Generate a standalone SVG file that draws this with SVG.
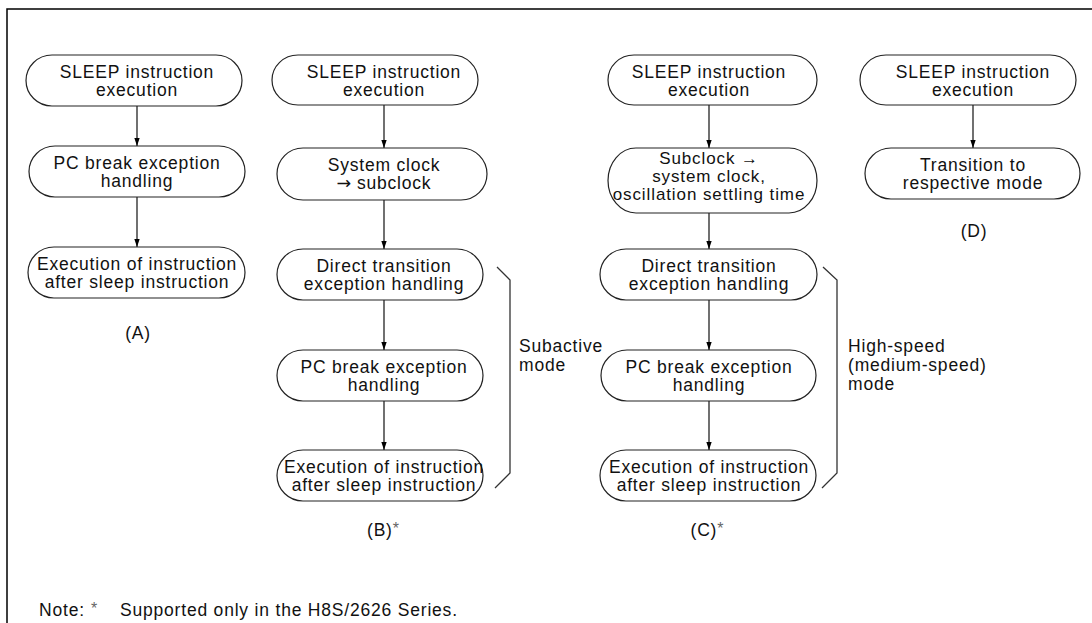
<svg xmlns="http://www.w3.org/2000/svg" width="1092" height="623" viewBox="0 0 1092 623">
<defs>
<marker id="ah" markerWidth="8" markerHeight="13" refX="12" refY="4" orient="auto" markerUnits="userSpaceOnUse" viewBox="0 0 12 8">
<path d="M0,0 L12,4 L0,8 Z" fill="#000"/>
</marker>
</defs>
<style>
.n{fill:#fff;stroke:#222;stroke-width:1.2}
.t{font-family:"Liberation Sans",Arial,sans-serif;font-size:17.5px;letter-spacing:0.8px;fill:#111;text-anchor:middle}
.t3{font-size:17px;letter-spacing:0.9px}
.l{font-family:"Liberation Sans",Arial,sans-serif;font-size:17.5px;letter-spacing:0.8px;fill:#111}
.s{font-family:"Liberation Sans",Arial,sans-serif;font-size:16px;fill:#666;letter-spacing:0}
.ar{font-family:"DejaVu Sans",sans-serif;letter-spacing:0}
.c{stroke:#111;stroke-width:1.2;fill:none;marker-end:url(#ah)}
.b{stroke:#333;stroke-width:1.3;fill:none}
</style>
<rect width="1092" height="623" fill="#fff"/>
<path d="M7,623 V9 H1092" fill="none" stroke="#000" stroke-width="1.5"/>

<g id="connectors">
<line class="c" x1="137" y1="106" x2="137" y2="146"/>
<line class="c" x1="137" y1="197" x2="137" y2="247"/>
<line class="c" x1="384" y1="105" x2="384" y2="148"/>
<line class="c" x1="384" y1="200" x2="384" y2="249"/>
<line class="c" x1="384" y1="300" x2="384" y2="350"/>
<line class="c" x1="384" y1="401" x2="384" y2="450"/>
<line class="c" x1="709" y1="105" x2="709" y2="148"/>
<line class="c" x1="709" y1="213" x2="709" y2="249"/>
<line class="c" x1="709" y1="300" x2="709" y2="350"/>
<line class="c" x1="709" y1="401" x2="709" y2="450"/>
<line class="c" x1="973" y1="105" x2="973" y2="148"/>
</g>

<g id="brackets">
<path class="b" d="M497,267 L510,280 V473 L495,488"/>
<path class="b" d="M823,267 L837,280 V473 L822,488"/>
</g>

<!-- Column A -->
<g id="a1"><rect class="n" x="26" y="55" width="216" height="51" rx="26" ry="25.5"/>
<text class="t" x="137" y="78">SLEEP instruction</text><text class="t" x="137" y="96">execution</text></g>
<g id="a2"><rect class="n" x="29" y="146" width="216" height="51" rx="26" ry="25.5"/>
<text class="t" x="137" y="169">PC break exception</text><text class="t" x="137" y="187">handling</text></g>
<g id="a3"><rect class="n" x="28" y="247" width="217" height="51" rx="26" ry="25.5"/>
<text class="t" x="137" y="270">Execution of instruction</text><text class="t" x="137" y="288">after sleep instruction</text></g>
<g id="labelA"><text class="t" x="138" y="339">(A)</text></g>

<!-- Column B -->
<g id="b1"><rect class="n" x="272" y="55" width="206" height="50" rx="26" ry="25"/>
<text class="t" x="384" y="78">SLEEP instruction</text><text class="t" x="384" y="96">execution</text></g>
<g id="b2"><rect class="n" x="277" y="148" width="210" height="52" rx="26" ry="26"/>
<text class="t" x="384" y="171">System clock</text><text class="t" x="384" y="189"><tspan class="ar">→</tspan> subclock</text></g>
<g id="b3"><rect class="n" x="277" y="249" width="206" height="51" rx="26" ry="25.5"/>
<text class="t" x="384" y="272">Direct transition</text><text class="t" x="384" y="290">exception handling</text></g>
<g id="b4"><rect class="n" x="277" y="350" width="206" height="51" rx="26" ry="25.5"/>
<text class="t" x="384" y="373">PC break exception</text><text class="t" x="384" y="391">handling</text></g>
<g id="b5"><rect class="n" x="277" y="450" width="206" height="51" rx="26" ry="25.5"/>
<text class="t" x="384" y="473">Execution of instruction</text><text class="t" x="384" y="491">after sleep instruction</text></g>
<g id="labelB"><text class="t" x="383" y="536">(B)<tspan class="s" dy="-2">*</tspan></text></g>
<g id="subactive"><text class="l" x="519" y="352">Subactive</text><text class="l" x="519" y="371">mode</text></g>

<!-- Column C -->
<g id="c1"><rect class="n" x="608" y="55" width="209" height="50" rx="26" ry="25"/>
<text class="t" x="709" y="78">SLEEP instruction</text><text class="t" x="709" y="96">execution</text></g>
<g id="c2"><rect class="n" x="608" y="148" width="209" height="65" rx="28" ry="32.5"/>
<text class="t t3" x="709" y="164">Subclock →</text><text class="t t3" x="709" y="182">system clock,</text><text class="t t3" x="709" y="200">oscillation settling time</text></g>
<g id="c3"><rect class="n" x="600" y="249" width="217" height="51" rx="26" ry="25.5"/>
<text class="t" x="709" y="272">Direct transition</text><text class="t" x="709" y="290">exception handling</text></g>
<g id="c4"><rect class="n" x="601" y="350" width="215" height="51" rx="26" ry="25.5"/>
<text class="t" x="709" y="373">PC break exception</text><text class="t" x="709" y="391">handling</text></g>
<g id="c5"><rect class="n" x="600" y="450" width="216" height="51" rx="26" ry="25.5"/>
<text class="t" x="709" y="473">Execution of instruction</text><text class="t" x="709" y="491">after sleep instruction</text></g>
<g id="labelC"><text class="t" x="707" y="536">(C)<tspan class="s" dy="-2">*</tspan></text></g>
<g id="highspeed"><text class="l" x="848" y="352">High-speed</text><text class="l" x="848" y="371">(medium-speed)</text><text class="l" x="848" y="390">mode</text></g>

<!-- Column D -->
<g id="d1"><rect class="n" x="860" y="55" width="216" height="50" rx="26" ry="25"/>
<text class="t" x="973" y="78">SLEEP instruction</text><text class="t" x="973" y="96">execution</text></g>
<g id="d2"><rect class="n" x="865" y="148" width="215" height="51" rx="26" ry="25.5"/>
<text class="t" x="973" y="171">Transition to</text><text class="t" x="973" y="189">respective mode</text></g>
<g id="labelD"><text class="t" x="974" y="237">(D)</text></g>

<g id="note"><text class="l" x="39" y="616">Note:</text><text class="s" x="91" y="614">*</text><text class="l" x="120" y="616">Supported only in the H8S/2626 Series.</text></g>
</svg>
